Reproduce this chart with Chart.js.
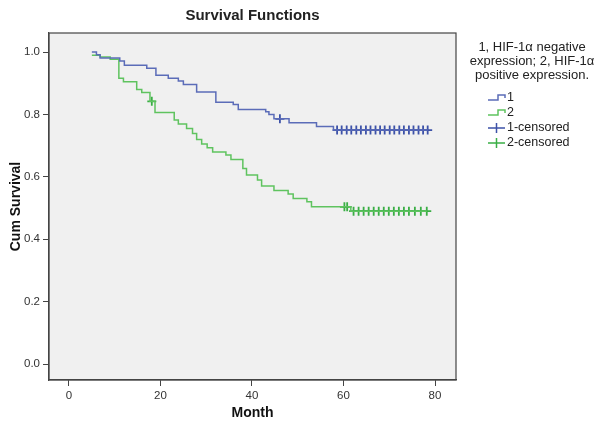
<!DOCTYPE html>
<html>
<head>
<meta charset="utf-8">
<script src="https://cdn.jsdelivr.net/npm/chart.js@4"></script>
<style>
  html, body { margin: 0; padding: 0; background: #fff; }
</style>
</head>
<body>
<canvas id="myChart" width="600" height="427"></canvas>
<script>
// Kaplan-Meier step values (month, cum survival after the event)
const blueTimes = [5, 6.0, 6.8, 11.1, 12.1, 17.0, 19.0, 21.7, 23.9, 25.0, 27.9, 32.1, 35.9, 37.0, 43.0, 43.7, 44.8, 48.1, 54.1, 57.8]
const blueSurv = [1.0, 0.991, 0.981, 0.971, 0.958, 0.948, 0.926, 0.916, 0.907, 0.896, 0.872, 0.839, 0.832, 0.816, 0.809, 0.800, 0.786, 0.773, 0.761, 0.750]
const blueCensored = [46.1, 58.6, 59.6, 60.7, 61.7, 62.8, 63.8, 64.9, 65.9, 67.0, 68.0, 69.0, 70.1, 71.1, 72.2, 73.2, 74.3, 75.3, 76.4, 77.4, 78.4]

const greenTimes = [5, 6.8, 9.0, 10.9, 11.9, 14.8, 15.9, 17.7, 18.8, 23.0, 23.9, 25.7, 27.0, 27.9, 29.0, 30.2, 31.4, 34.3, 35.4, 38.0, 38.8, 41.2, 42.1, 44.8, 47.9, 49.0, 52.0, 53.0, 61.6]
const greenSurv = [0.990, 0.984, 0.977, 0.916, 0.905, 0.880, 0.870, 0.842, 0.806, 0.782, 0.769, 0.755, 0.739, 0.720, 0.705, 0.693, 0.680, 0.670, 0.656, 0.627, 0.606, 0.590, 0.571, 0.556, 0.545, 0.531, 0.520, 0.504, 0.490]
const greenCensored = [18.1, 60.2, 60.8, 62.2, 63.3, 64.4, 65.5, 66.6, 67.7, 68.8, 69.9, 71.0, 72.1, 73.2, 74.3, 75.6, 76.9, 78.2]

const xTicks = [0, 20, 40, 60, 80]
const yTicks = [0, 0.2, 0.4, 0.6, 0.8, 1.0]

const legendTitle = ['1, HIF-1\u03b1 negative', 'expression; 2, HIF-1\u03b1', 'positive expression.']
const legendLabels = ['1', '2', '1-censored', '2-censored']

const blueLine = '#5b6cb8'
const blueMark = '#3d52a8'
const greenLine = '#5fc35f'
const greenMark = '#3aae45'
const font = 'Arial, "Liberation Sans", sans-serif'

const survAt = (times, surv, t) => {
    let s = 1
    for (let i = 0; i < times.length; i++) {
        if (times[i] <= t) s = surv[i]
    }
    return s
}

const stepPoints = (times, surv, censored) => {
    const pts = times.map((t, i) => ({x: t, y: surv[i]}))
    const last = Math.max(...censored)
    pts.push({x: last, y: survAt(times, surv, last)})
    return pts
}

const censorPoints = (times, surv, censored) =>
    censored.map((t) => ({x: t, y: survAt(times, surv, t)}))

const frame = {
    id: 'frame',
    beforeDraw(chart) {
        const {ctx, chartArea: a} = chart
        ctx.save()
        ctx.fillStyle = '#f0f0f0'
        ctx.fillRect(a.left, a.top, a.right - a.left, a.bottom - a.top)
        ctx.restore()
    },
    afterDraw(chart) {
        const {ctx, chartArea: a} = chart
        ctx.save()
        ctx.strokeStyle = '#444'
        ctx.lineWidth = 1.2
        ctx.strokeRect(a.left, a.top, a.right - a.left, a.bottom - a.top)

        // legend
        ctx.fillStyle = '#222'
        ctx.font = '13px ' + font
        ctx.textAlign = 'center'
        ctx.textBaseline = 'middle'
        legendTitle.forEach((line, i) => ctx.fillText(line, 532, 47 + i * 14))

        const colors = [blueLine, greenLine, blueMark, greenMark]
        ctx.font = '12.5px ' + font
        ctx.textAlign = 'left'
        legendLabels.forEach((lab, i) => {
            const y = 98 + i * 15
            ctx.strokeStyle = colors[i]
            ctx.lineWidth = 1.5
            ctx.beginPath()
            if (i < 2) {
                ctx.moveTo(488, y + 2)
                ctx.lineTo(498, y + 2)
                ctx.lineTo(498, y - 3)
                ctx.lineTo(505, y - 3)
                ctx.lineTo(505, y)
            } else {
                ctx.moveTo(488, y)
                ctx.lineTo(505, y)
                ctx.moveTo(496.5, y - 5)
                ctx.lineTo(496.5, y + 5)
            }
            ctx.stroke()
            ctx.fillStyle = '#222'
            ctx.fillText(lab, 507, y)
        })
        ctx.restore()
    }
}

const chart = document.getElementById('myChart')

new Chart(chart, {
    type: 'scatter',
    data: {
        datasets: [{
            label: '1',
            data: stepPoints(blueTimes, blueSurv, blueCensored),
            showLine: true,
            stepped: true,
            borderColor: blueLine,
            borderWidth: 1.5,
            pointRadius: 0
        }, {
            label: '2',
            data: stepPoints(greenTimes, greenSurv, greenCensored),
            showLine: true,
            stepped: true,
            borderColor: greenLine,
            borderWidth: 1.5,
            pointRadius: 0
        }, {
            label: '1-censored',
            data: censorPoints(blueTimes, blueSurv, blueCensored),
            pointStyle: 'cross',
            pointRadius: 4.5,
            borderColor: blueMark,
            borderWidth: 1.8
        }, {
            label: '2-censored',
            data: censorPoints(greenTimes, greenSurv, greenCensored),
            pointStyle: 'cross',
            pointRadius: 4.5,
            borderColor: greenMark,
            borderWidth: 1.8
        }]
    },
    options: {
        responsive: false,
        animation: false,
        layout: { padding: { right: 144 } },
        plugins: {
            legend: { display: false },
            tooltip: { enabled: false },
            title: {
                display: true,
                text: 'Survival Functions',
                fullSize: false,
                color: '#222',
                font: { family: font, size: 15, weight: 'bold' },
                padding: { top: 7, bottom: 8 }
            }
        },
        scales: {
            x: {
                type: 'linear',
                min: -4.37,
                max: 84.59,
                afterBuildTicks: (s) => { s.ticks = xTicks.map((v) => ({value: v})) },
                afterFit: (s) => { s.height = 47 },
                grid: { drawOnChartArea: false, color: '#444', tickLength: 6 },
                border: { color: '#444', width: 1.2 },
                ticks: { color: '#333', font: { family: font, size: 11.5 }, padding: 3 },
                title: {
                    display: true,
                    text: 'Month',
                    color: '#111',
                    font: { family: font, size: 14, weight: 'bold' },
                    padding: { top: 0, bottom: 5.6 }
                }
            },
            y: {
                type: 'linear',
                min: -0.051,
                max: 1.061,
                afterBuildTicks: (s) => { s.ticks = yTicks.map((v) => ({value: v})) },
                afterFit: (s) => { s.width = 49 },
                grid: { drawOnChartArea: false, color: '#444', tickLength: 6 },
                border: { color: '#444', width: 1.2 },
                ticks: {
                    color: '#333',
                    font: { family: font, size: 11.5 },
                    padding: 3,
                    callback: (v) => v.toFixed(1)
                },
                title: {
                    display: true,
                    text: 'Cum Survival',
                    color: '#111',
                    font: { family: font, size: 14, weight: 'bold' },
                    padding: { top: 8, bottom: 0 }
                }
            }
        }
    },
    plugins: [frame]
})
</script>
</body>
</html>
